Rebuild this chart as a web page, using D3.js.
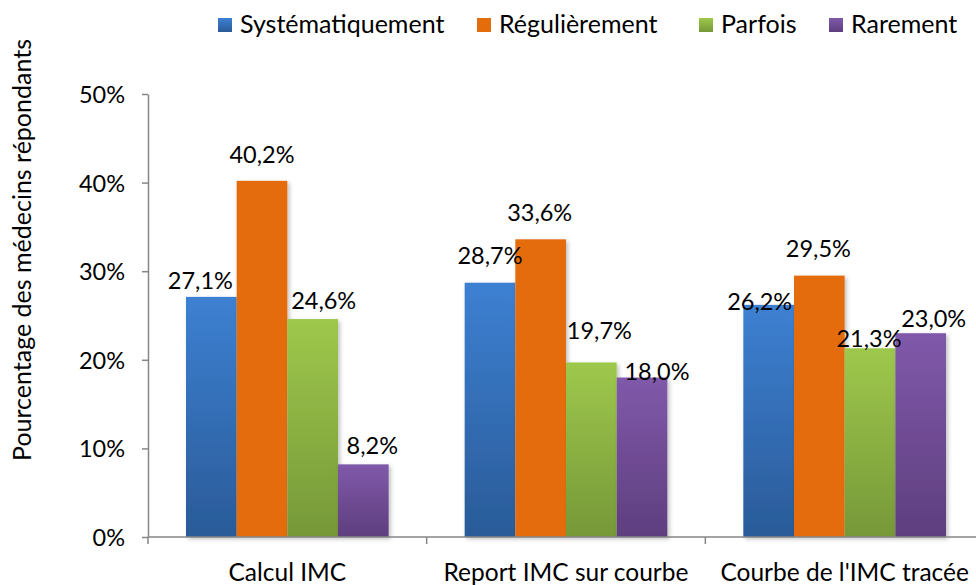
<!DOCTYPE html>
<html><head><meta charset="utf-8">
<script src="https://cdn.jsdelivr.net/npm/d3@7"></script>
<style>
html,body{margin:0;padding:0;background:#fff;}
svg text{font-family:Lato,"Open Sans",sans-serif;fill:#000;}
</style></head>
<body>
<svg id="c" width="976" height="585"></svg>
<script>
const categories = ["Calcul IMC", "Report IMC sur courbe", "Courbe de l'IMC tracée"];
const seriesNames = ["Systématiquement", "Régulièrement", "Parfois", "Rarement"];
const systematiquement = [27.1, 28.7, 26.2];
const regulierement = [40.2, 33.6, 29.5];
const parfois = [24.6, 19.7, 21.3];
const rarement = [8.2, 18.0, 23.0];
const yTicks = [0, 10, 20, 30, 40, 50];
const yTitle = "Pourcentage des médecins répondants";

// styling (not data)
const gradStops = [["#3D80D2", "#2A5B98"], ["#E46C0A", "#E46C0A"], ["#9EC84C", "#769838"], ["#8059AA", "#5E3E7E"]];
// manual label nudges [dx, dy from bar top] per category, per series
const labelNudge = [
  [[-11, -8], [0, -18], [11, -10], [9, -10]],
  [[0, -19], [-1, -18], [8, -23], [15, 2]],
  [[-9, 5], [-1, -19], [-1, -1], [13, -6]]
];

const seriesValues = [systematiquement, regulierement, parfois, rarement];
const svg = d3.select("#c");
const defs = svg.append("defs");
gradStops.forEach((g, i) => {
  const lg = defs.append("linearGradient").attr("id", "g" + i).attr("x1", 0).attr("y1", 0).attr("x2", 0).attr("y2", 1);
  lg.append("stop").attr("offset", "0%").attr("stop-color", g[0]);
  lg.append("stop").attr("offset", "100%").attr("stop-color", g[1]);
});
const f = defs.append("filter").attr("id", "sh").attr("x", "-20%").attr("y", "-20%").attr("width", "150%").attr("height", "150%");
f.append("feDropShadow").attr("dx", 2).attr("dy", 2).attr("stdDeviation", 2).attr("flood-color", "#000").attr("flood-opacity", 0.25);

const x0 = d3.scaleBand().domain(categories).range([148, 984]);
const bw = x0.bandwidth();
const x1 = d3.scaleBand().domain(seriesNames).range([bw * 0.75 / 5.5, bw * 4.75 / 5.5]);
const y = d3.scaleLinear().domain([0, 50]).range([537, 94]);

const data = [];
categories.forEach((c, ci) => seriesNames.forEach((s, si) => data.push({c, ci, s, si, v: seriesValues[si][ci]})));

svg.append("g").selectAll("rect").data(data).join("rect")
  .attr("x", d => x0(d.c) + x1(d.s))
  .attr("y", d => y(d.v))
  .attr("width", x1.bandwidth())
  .attr("height", d => y(0) - y(d.v))
  .attr("fill", d => `url(#g${d.si})`)
  .attr("filter", "url(#sh)");

// axes
const yAxis = svg.append("g").attr("transform", "translate(148,0)")
  .call(d3.axisLeft(y).tickValues(yTicks).tickFormat(d => d + "%").tickSize(6).tickSizeOuter(0).tickPadding(17));
yAxis.select(".domain").attr("stroke", "#868686").attr("stroke-width", 1.5);
yAxis.selectAll(".tick line").attr("stroke", "#868686").attr("stroke-width", 1.5);
yAxis.selectAll("text").style("font-size", "23.5px").attr("dy", "0.36em");

const xAxisG = svg.append("g").attr("transform", "translate(0,537)");
xAxisG.append("line").attr("x1", 148).attr("x2", 984).attr("stroke", "#868686").attr("stroke-width", 1.5);
xAxisG.selectAll("line.t").data(categories).join("line").attr("class", "t")
  .attr("x1", d => x0(d)).attr("x2", d => x0(d)).attr("y1", 0).attr("y2", 7)
  .attr("stroke", "#868686").attr("stroke-width", 1.5);
xAxisG.selectAll("text").data(categories).join("text")
  .attr("x", d => x0(d) + bw / 2).attr("y", 44).attr("text-anchor", "middle")
  .style("font-size", "24.5px").text(d => d);

// data labels
svg.append("g").selectAll("text").data(data).join("text")
  .attr("x", d => x0(d.c) + x1(d.s) + x1.bandwidth() / 2 + labelNudge[d.ci][d.si][0])
  .attr("y", d => y(d.v) + labelNudge[d.ci][d.si][1])
  .attr("text-anchor", "middle").style("font-size", "23.5px")
  .text(d => d3.format(".1f")(d.v).replace(".", ",") + "%");

// y title
svg.append("text").attr("transform", `translate(31,250) rotate(-90)`)
  .attr("text-anchor", "middle").style("font-size", "25px").text(yTitle);

// legend
const legendX = [218, 477, 699, 829];
const lg = svg.append("g").selectAll("g").data(seriesNames).join("g")
  .attr("transform", (d, i) => `translate(${legendX[i]},18)`);
lg.append("rect").attr("width", 14).attr("height", 14).attr("fill", (d, i) => `url(#g${i})`);
lg.append("text").attr("x", 22).attr("y", 15).style("font-size", "25px").text(d => d);
</script>
</body></html>
